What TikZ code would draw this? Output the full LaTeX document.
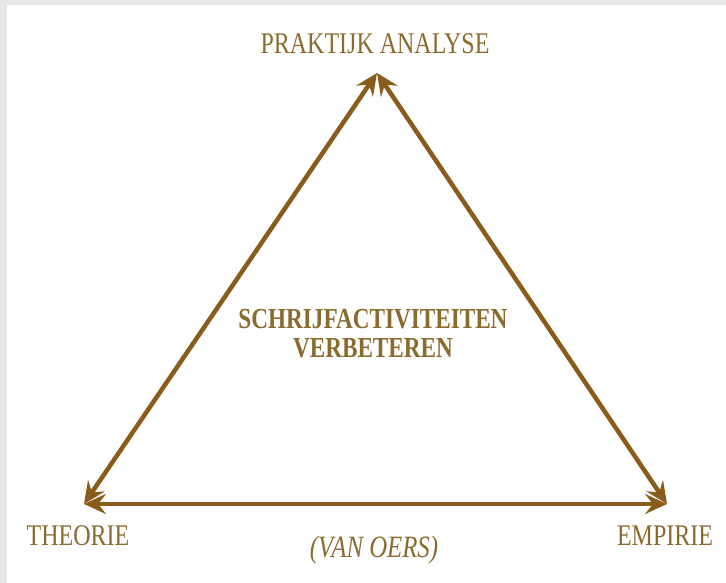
\documentclass[tikz,border=0pt]{standalone}
\usepackage{fontspec}
\setmainfont[FakeStretch=0.8]{Liberation Serif}
\usetikzlibrary{arrows.meta}
\definecolor{bruin}{HTML}{8A5C1C}
\definecolor{tekstbruin}{HTML}{8B6A2E}
\definecolor{rand}{HTML}{E8E8E8}
\tikzset{
  pijl/.style = {draw=bruin, line width=4.5pt,
    {Stealth[length=22pt,width=20pt,inset=8pt]}-{Stealth[length=22pt,width=20pt,inset=8pt]}},
  hoek/.style = {text=tekstbruin, font=\fontsize{30}{33}\selectfont},
}
\begin{document}
\begin{tikzpicture} [x=1pt, y=-1pt]
            % Achtergrond met grijze rand
            \useasboundingbox (0, 0) rectangle (726, 583);
            \fill[rand] (0, 0) rectangle (726, 583);
            \fill[white] (7, 5) rectangle (726, 583);

            % Hoekpunten van de driehoek
            \coordinate (top)   at (377, 73);
            \coordinate (links) at (84, 504);
            \coordinate (rechts) at (667, 504);

            % Zijden
            \draw[pijl] (top) -- (links);
            \draw[pijl] (top) -- (rechts);
            \draw[pijl] (links) -- (rechts);

            % Teksten
            \node[hoek] (praktijk) at (375, 44)  {PRAKTIJK ANALYSE};
            \node[hoek] (theorie)  at (78, 536)  {THEORIE};
            \node[hoek] (empirie)  at (665, 536) {EMPIRIE};
            \node[hoek, font=\fontsize{31}{34}\selectfont\itshape] (bron) at (374, 550) {(VAN OERS)};
            \node[hoek, font=\fontsize{29}{29}\selectfont\bfseries, align=center] (midden) at (373, 334)
                {SCHRIJFACTIVITEITEN\\VERBETEREN};
        \end{tikzpicture}
\end{document}
